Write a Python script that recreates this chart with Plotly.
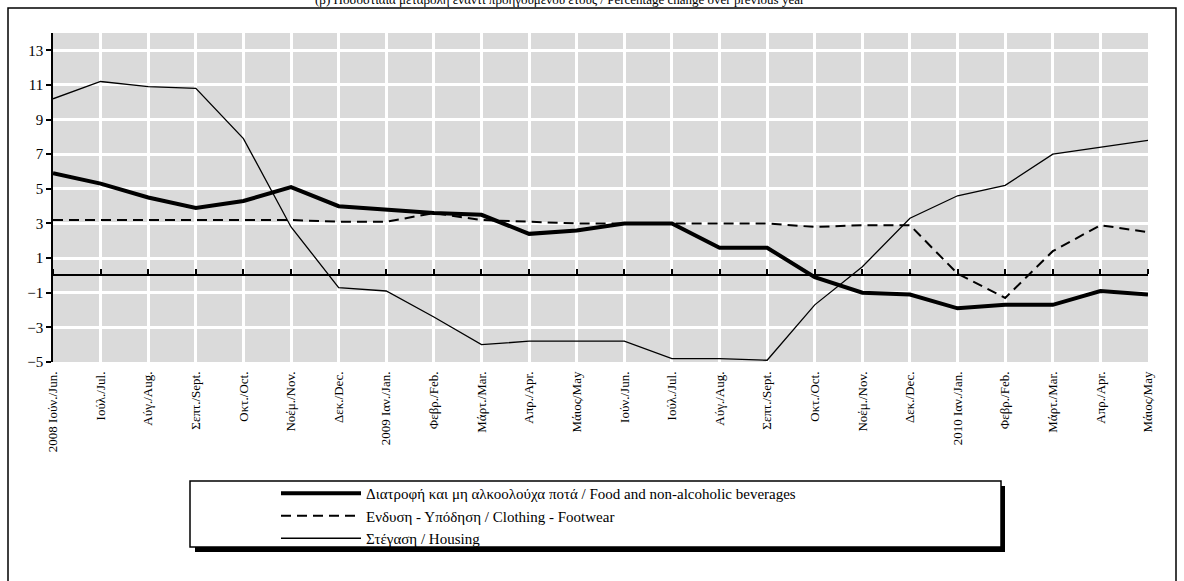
import plotly.graph_objects as go

months = ["2008 Ιούν./Jun.", "Ιούλ./Jul.", "Αύγ./Aug.", "Σεπτ./Sept.", "Οκτ./Oct.", "Νοέμ./Nov.",
          "Δεκ./Dec.", "2009 Ιαν./Jan.", "Φεβρ./Feb.", "Μάρτ./Mar.", "Απρ./Apr.", "Μάιος/May",
          "Ιούν./Jun.", "Ιούλ./Jul.", "Αύγ./Aug.", "Σεπτ./Sept.", "Οκτ./Oct.", "Νοέμ./Nov.",
          "Δεκ./Dec.", "2010 Ιαν./Jan.", "Φεβρ./Feb.", "Μάρτ./Mar.", "Απρ./Apr.", "Μάιος/May"]

food = [5.9, 5.3, 4.5, 3.9, 4.3, 5.1, 4.0, 3.8, 3.6, 3.5, 2.4, 2.6,
        3.0, 3.0, 1.6, 1.6, -0.1, -1.0, -1.1, -1.9, -1.7, -1.7, -0.9, -1.1]
clothing = [3.2, 3.2, 3.2, 3.2, 3.2, 3.2, 3.1, 3.1, 3.6, 3.2, 3.1, 3.0,
            3.0, 3.0, 3.0, 3.0, 2.8, 2.9, 2.9, 0.1, -1.3, 1.4, 2.9, 2.5]
housing = [10.2, 11.2, 10.9, 10.8, 7.9, 2.8, -0.7, -0.9, -2.4, -4.0, -3.8, -3.8,
           -3.8, -4.8, -4.8, -4.9, -1.7, 0.5, 3.3, 4.6, 5.2, 7.0, 7.4, 7.8]

names = ["Διατροφή και μη αλκοολούχα ποτά / Food and non-alcoholic beverages",
         "Ενδυση - Υπόδηση / Clothing - Footwear",
         "Στέγαση / Housing"]
y_ticks = [-5, -3, -1, 1, 3, 5, 7, 9, 11, 13]
title_text = "(β) Ποσοστιαία μεταβολή έναντι προηγούμενου έτους / Percentage change over previous year"

x = list(range(len(months)))
FONT = "Times New Roman, Liberation Serif, serif"

fig = go.Figure()
fig.add_trace(go.Scatter(x=x, y=food, mode="lines", name=names[0],
                         line=dict(color="black", width=4)))
fig.add_trace(go.Scatter(x=x, y=clothing, mode="lines", name=names[1],
                         line=dict(color="black", width=2, dash="10px,6px")))
fig.add_trace(go.Scatter(x=x, y=housing, mode="lines", name=names[2], xaxis="x2",
                         line=dict(color="black", width=1.3)))

W, H = 1184, 581
L, R, T, B = 53, 1148, 33, 362
pw, ph = R - L, B - T

def px(v):
    return (v - L) / pw

def py(v):
    return (B - v) / ph

shapes = [
    dict(type="rect", xref="paper", yref="paper", x0=px(8), x1=px(1176), y0=py(600), y1=py(8),
         line=dict(color="black", width=1.5), fillcolor="rgba(0,0,0,0)", layer="below"),
    dict(type="rect", xref="paper", yref="paper", x0=px(195), x1=px(1005), y0=py(552), y1=py(486),
         line=dict(width=0), fillcolor="black", layer="above"),
    dict(type="rect", xref="paper", yref="paper", x0=px(190), x1=px(1001), y0=py(547), y1=py(481),
         line=dict(color="black", width=1.5), fillcolor="white", layer="above"),
]

fig.update_layout(
    width=W, height=H,
    margin=dict(l=L, r=W - R, t=T, b=H - B),
    paper_bgcolor="white",
    plot_bgcolor="#dadada",
    font=dict(family=FONT, color="black", size=13),
    shapes=shapes,
    showlegend=True,
    legend=dict(x=px(276), y=py(477), xanchor="left", yanchor="top",
                bgcolor="rgba(0,0,0,0)", borderwidth=0,
                font=dict(family=FONT, size=15, color="black"),
                tracegroupgap=0, itemwidth=80),
    annotations=[dict(text=title_text, xref="paper", yref="paper", x=px(560), y=py(9),
                      xanchor="center", yanchor="bottom", showarrow=False,
                      font=dict(family=FONT, size=13, color="black"))],
    xaxis=dict(range=[0, len(months) - 1], tickmode="array", tickvals=x, ticktext=months,
               tickangle=-90, showgrid=True, gridcolor="white", gridwidth=3,
               showline=False, ticks="", zeroline=False, ticklabelstandoff=6,
               tickfont=dict(family=FONT, size=13, color="black")),
    xaxis2=dict(overlaying="x", anchor="free", position=5 / 19, side="top", matches="x",
                tickmode="array", tickvals=x,
                showticklabels=False, ticks="outside", ticklen=5, tickwidth=1.5,
                tickcolor="black", showline=True, linecolor="black", linewidth=2,
                showgrid=False, zeroline=False),
    yaxis=dict(range=[-5, 14], tickmode="array", tickvals=y_ticks,
               showgrid=True, gridcolor="white", gridwidth=3, zeroline=False,
               showline=True, linecolor="black", linewidth=1.5,
               ticks="outside", ticklen=5, tickwidth=1.5, tickcolor="black",
               tickfont=dict(family=FONT, size=15, color="black")),
)

fig.write_html("out.html", config={"displayModeBar": False},
               post_script="document.body.style.margin='0';document.body.style.overflow='hidden';")
